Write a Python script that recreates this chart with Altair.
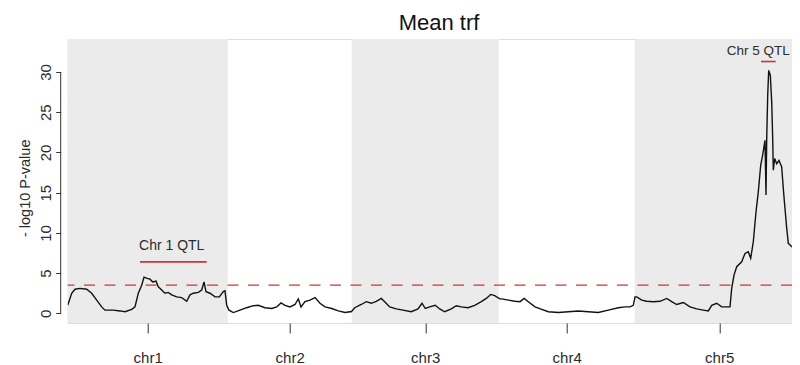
import altair as alt
import pandas as pd

# ---- data ----
chrom_names = ["chr1", "chr2", "chr3", "chr4", "chr5"]
chrom_start = [0, 160, 284, 431, 567]
chrom_end = [160, 284, 431, 567, 736]
chrom_shaded = [True, False, True, False, True]

pos = [
    0.0, 4.0, 7.3, 12.3, 19.0, 24.0, 29.0, 34.0, 37.3, 45.6, 52.3, 57.3, 64.0, 67.3,
    70.6, 74.0, 76.3, 79.6, 82.3, 85.0, 88.3, 90.6, 94.0, 97.3, 100.6, 104.0, 109.0,
    114.0, 119.0, 122.3, 125.6, 130.6, 134.0, 136.3, 138.3, 142.3, 147.3, 151.6,
    155.6, 157.3, 159.0,
    161.3, 165.6, 172.3, 179.0, 185.6, 190.6, 197.3, 204.0, 209.0, 213.3, 217.3,
    222.3, 227.3, 230.6, 233.3, 237.3, 242.3, 247.3, 252.3, 257.3, 264.0, 270.6,
    277.3, 282.3,
    283.6, 287.0, 293.6, 298.6, 303.6, 308.6, 313.6, 317.0, 322.0, 328.6, 335.3,
    343.6, 350.3, 354.3, 357.6, 362.0, 367.6, 372.0, 377.0, 383.6, 388.6, 393.6,
    400.3, 407.0, 413.6, 418.6, 423.0, 427.0, 432.0,
    434.0, 440.6, 447.3, 452.3, 456.6, 460.6, 467.3, 474.0, 480.6, 490.6, 500.6,
    510.6, 520.6, 530.6, 540.6, 550.6, 557.3, 562.3, 565.6,
    567.3, 569.0, 574.0, 579.0, 585.6, 592.3, 599.0, 604.0, 609.0, 615.6, 622.3,
    629.0, 635.6, 640.6, 644.0, 649.0, 654.0, 662.3, 664.0, 666.3, 669.0, 674.0,
    677.3, 680.6, 683.0, 685.6, 688.3, 690.6, 693.0, 695.0, 697.3, 698.3, 699.0,
    700.0, 701.0, 702.6, 704.0, 705.0, 705.6, 707.0, 709.0, 711.3, 714.0, 715.6,
    717.3, 719.0, 720.6, 724.0, 727.3, 729.0, 731.3, 733.0,
]
logp = [
    1.0, 2.5, 3.0, 3.1, 3.0, 2.5, 1.65, 0.8, 0.4, 0.4, 0.3, 0.2, 0.5, 0.8,
    2.5, 3.5, 4.5, 4.35, 4.25, 3.9, 4.0, 3.3, 2.9, 2.5, 2.6, 2.3, 2.05,
    1.95, 1.5, 2.3, 2.5, 2.6, 2.9, 3.9, 2.7, 2.5, 2.05, 2.05,
    2.7, 2.8, 1.0,
    0.4, 0.1, 0.4, 0.7, 0.95, 1.0, 0.7, 0.6, 0.8, 1.3, 1.0,
    0.8, 1.1, 1.8, 0.8, 1.45, 1.65, 1.95, 1.25, 0.8, 0.6, 0.3,
    0.1, 0.2,
    0.2, 0.7, 1.1, 1.45, 1.25, 1.5, 1.85, 1.45, 0.8, 0.55, 0.4,
    0.2, 0.55, 1.25, 0.6, 0.8, 1.0, 0.55, 0.2, 0.55, 0.95, 0.8,
    0.7, 1.0, 1.45, 1.85, 2.35, 2.2, 1.8,
    1.8, 1.65, 1.5, 1.45, 1.85, 1.45, 0.8, 0.5, 0.2, 0.1, 0.2,
    0.3, 0.2, 0.1, 0.4, 0.7, 0.8, 0.8, 1.0,
    2.05, 2.05, 1.65, 1.5, 1.45, 1.5, 1.85, 1.45, 1.1, 1.35, 0.8,
    0.55, 0.4, 0.3, 1.0, 1.25, 0.8, 0.8, 3.1, 4.75, 5.8, 6.4,
    7.45, 7.65, 6.85, 8.9, 12.6, 15.1, 18.4, 19.7, 21.5, 14.7, 21.7,
    27.1, 30.2, 29.6, 26.3, 21.7, 17.8, 19.25, 18.6, 19.0, 18.2, 15.5,
    13.0, 10.6, 8.7, 8.3, 7.9, 6.4, 4.55, 3.8,
]

threshold = 3.5
qtl_labels = ["Chr 1 QTL", "Chr 5 QTL"]
qtl_x1 = [72.3, 693.3]
qtl_x2 = [139.0, 708.0]
qtl_y = [6.4, 31.3]
qtl_label_x = [104.0, 690.5]
qtl_label_y = [8.4, 32.6]
qtl_label_size = [14, 13.5]

y_ticks = [0, 5, 10, 15, 20, 25, 30]
title_text = "Mean trf"
y_title_text = "- log10 P-value"

# ---- layout ----
PAD_L = 59.7
W, H = 784 - PAD_L, 284
X_DOMAIN = [0, W]
Y_DOMAIN = [-1.2, 34.1]
FONT = "Liberation Sans"
RED = "#d03535"
TXT = "#2b2b2b"

chrom_df = pd.DataFrame({
    "name": chrom_names, "start": chrom_start, "end": chrom_end,
    "shaded": chrom_shaded,
})
chrom_df["mid"] = (chrom_df["start"] + chrom_df["end"]) / 2
mids = chrom_df["mid"].tolist()
label_expr = " : ".join(
    f"datum.value == {m} ? '{n}'" for m, n in zip(mids, chrom_names)
) + " : ''"

line_df = pd.DataFrame({"pos": pos, "logp": logp})
qtl_df = pd.DataFrame({
    "label": qtl_labels, "x1": qtl_x1, "x2": qtl_x2, "y": qtl_y,
    "lx": qtl_label_x, "ly": qtl_label_y, "fs": qtl_label_size,
})
one = pd.DataFrame({"t": [title_text], "yt": [y_title_text]})

xscale = alt.Scale(domain=X_DOMAIN, nice=False, zero=False)
yscale = alt.Scale(domain=Y_DOMAIN, nice=False, zero=False)

xaxis = alt.Axis(
    values=mids, labelExpr=label_expr, title=None, domain=False, grid=False,
    tickSize=10, tickColor="#333", labelFontSize=15, labelFont=FONT,
    labelColor=TXT, labelBaseline="alphabetic", labelPadding=29.5,
    labelFlush=False, labelOverlap=False,
)
yaxis = alt.Axis(
    values=y_ticks, title=None, domain=False, grid=False, offset=7,
    tickSize=5, tickColor="#333", labelAngle=270, labelAlign="center",
    labelBaseline="alphabetic", labelPadding=5.3, labelFontSize=15,
    labelFont=FONT, labelColor=TXT,
)

shade = alt.Chart(chrom_df).transform_filter("datum.shaded").mark_rect(
    color="#ebebeb", clip=True
).encode(
    x=alt.X("start:Q", scale=xscale, axis=xaxis),
    x2="end:Q",
    y=alt.value(0),
    y2=alt.value(H),
)

thr = alt.Chart(pd.DataFrame({"thr": [threshold]})).mark_rule(
    color=RED, strokeDash=[11, 9.5], strokeWidth=1.3
).encode(y=alt.Y("thr:Q", scale=yscale, axis=yaxis))

line = alt.Chart(line_df).mark_line(
    color="#111", strokeWidth=1.4, clip=True
).encode(
    x=alt.X("pos:Q", scale=xscale, axis=xaxis),
    y=alt.Y("logp:Q", scale=yscale, axis=yaxis),
)

yline = alt.Chart(pd.DataFrame({"a": [y_ticks[0]], "b": [y_ticks[-1]]})).mark_rule(
    color="#333", strokeWidth=1
).encode(
    x=alt.value(-7),
    y=alt.Y("a:Q", scale=yscale, axis=yaxis),
    y2="b:Q",
)

qtl_rules = alt.Chart(qtl_df).mark_rule(color=RED, strokeWidth=1.6).encode(
    x=alt.X("x1:Q", scale=xscale, axis=xaxis), x2="x2:Q",
    y=alt.Y("y:Q", scale=yscale, axis=yaxis),
)
qtl_text = alt.Chart(qtl_df).mark_text(
    font=FONT, color=TXT, baseline="middle", align="center"
).encode(
    x=alt.X("lx:Q", scale=xscale, axis=xaxis),
    y=alt.Y("ly:Q", scale=yscale, axis=yaxis),
    text="label:N",
    size=alt.Size("fs:Q", scale=None, legend=None),
)

title = alt.Chart(one).mark_text(
    font=FONT, fontSize=22, color="#111", baseline="alphabetic", align="center"
).encode(x=alt.value(371.3), y=alt.value(-9), text="t:N")

ytitle = alt.Chart(one).mark_text(
    font=FONT, fontSize=14.5, color=TXT, baseline="alphabetic", align="center",
    angle=270,
).encode(x=alt.value(-37.5), y=alt.value(149.3), text="yt:N")

chart = alt.layer(
    shade, thr, line, yline, qtl_rules, qtl_text, title, ytitle
).properties(
    width=W, height=H,
    autosize=alt.AutoSizeParams(type="none"),
    padding={"left": PAD_L, "top": 31, "right": 0, "bottom": 42},
).configure_view(stroke=None).configure(background="white")

chart.save("out.html", embed_options={"renderer": "svg", "actions": False})
